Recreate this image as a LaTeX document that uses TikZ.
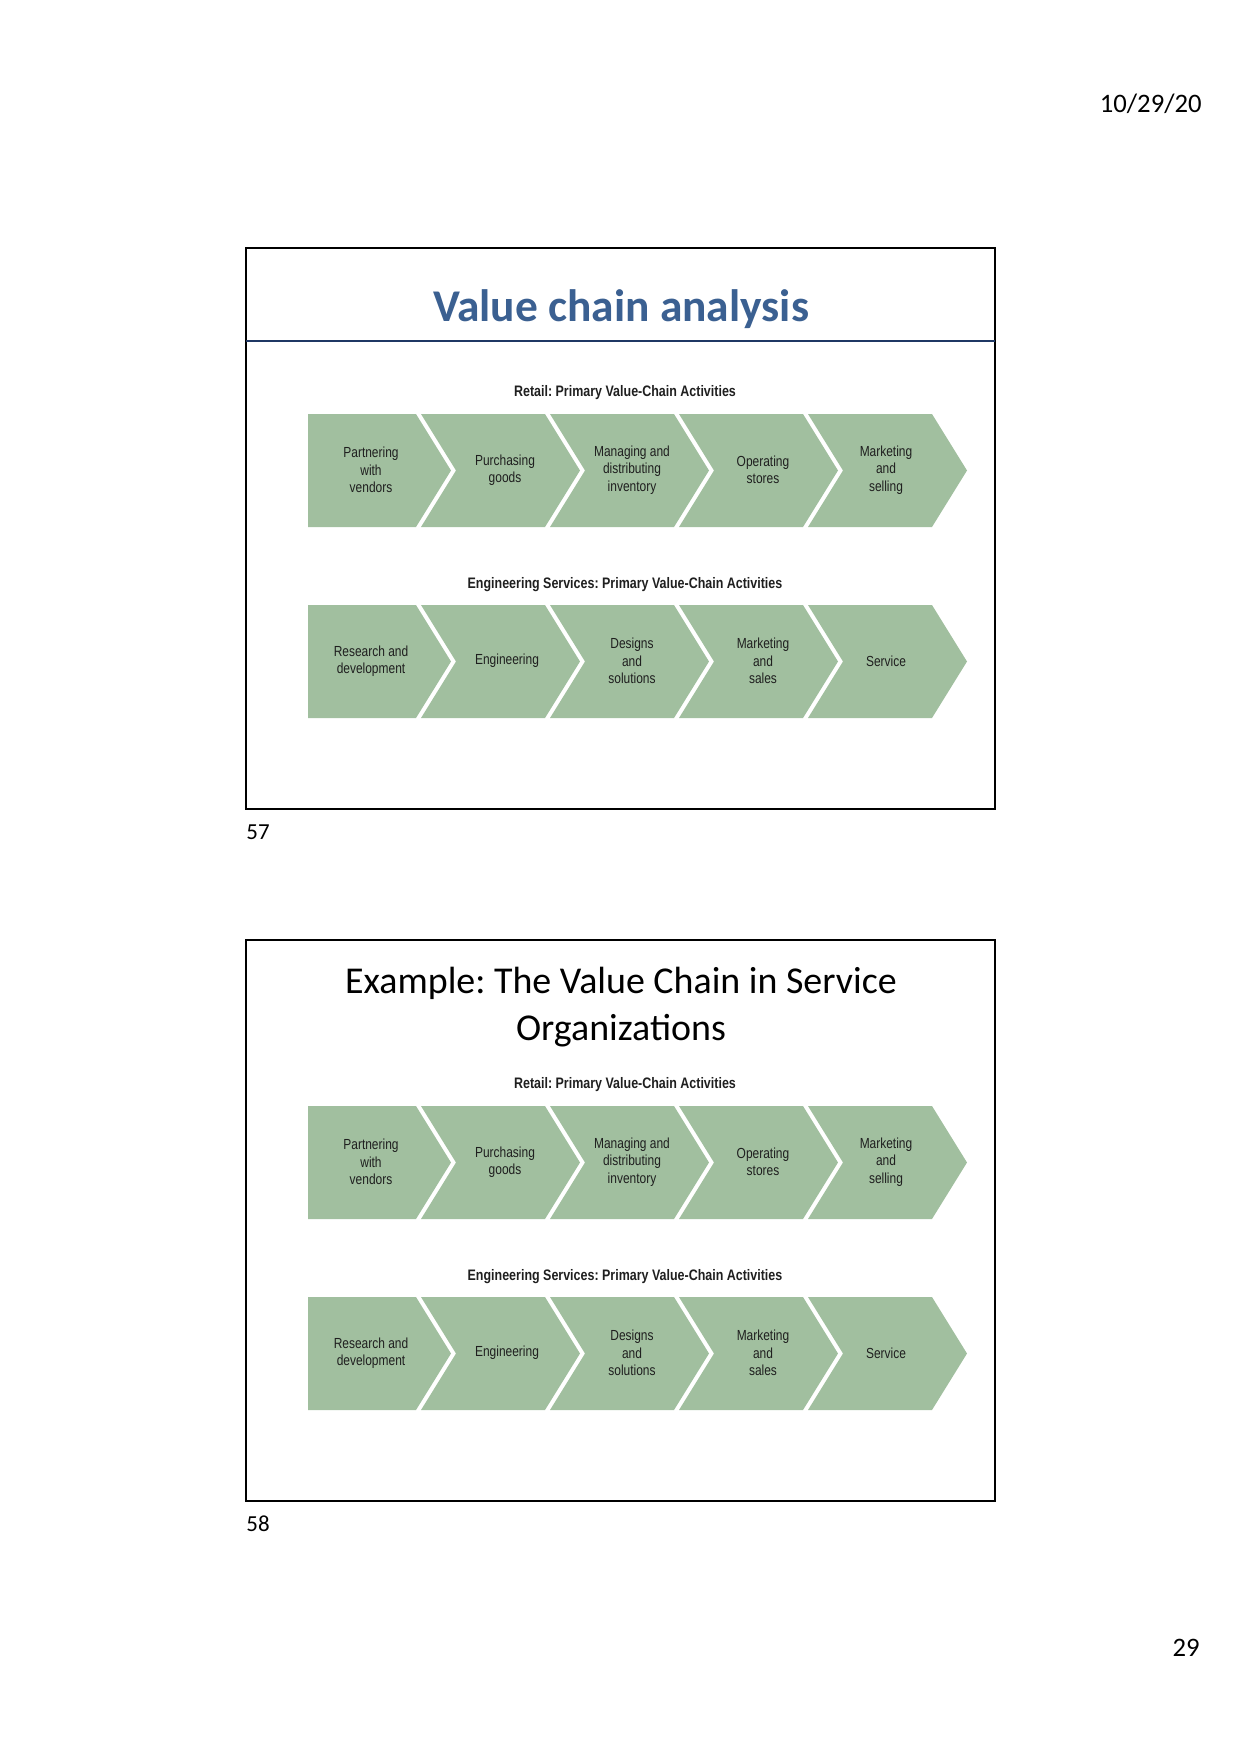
\documentclass[tikz,border=0pt]{standalone}
\usepackage{fontspec}
\setmainfont{Carlito}
\newfontfamily\chevfont[FakeStretch=0.82]{Liberation Sans}
\usepackage{tikz}
\usetikzlibrary{calc}
\frenchspacing

\definecolor{chevgreen}{RGB}{161,191,159}
\definecolor{titleblue}{RGB}{59,96,145}
\definecolor{rulenavy}{RGB}{31,56,100}

% one row of five chevrons, #1 = top edge (px)
\newcommand{\chevrow}[1]{%
  \fill[chev] (308,#1) -- (416,#1) -- (451,#1+56.5) -- (416,#1+113) -- (308,#1+113) -- cycle;
  \foreach \i in {1,...,4}{
    \pgfmathsetmacro{\xl}{416+129*(\i-1)+5}
    \pgfmathsetmacro{\xr}{416+129*\i}
    \fill[chev] (\xl,#1) -- (\xr,#1) -- (\xr+35,#1+56.5) -- (\xr,#1+113) -- (\xl,#1+113) -- (\xl+35,#1+56.5) -- cycle;
  }
}

% both value chains of one slide, #1 = prefix of node names
\newcommand{\valuechains}[1]{%
  \node[caption] (#1cap1) at (625,393) {Retail: Primary Value-Chain Activities};
  \chevrow{414}
  \node[label] (#1a1) at (371,470) {Partnering\\with\\vendors};
  \node[label] (#1a2) at (505,470) {Purchasing\\goods};
  \node[label] (#1a3) at (632,470) {Managing and\\distributing\\inventory};
  \node[label] (#1a4) at (763,470) {Operating\\stores};
  \node[label] (#1a5) at (886,470) {Marketing\\and\\selling};
  \node[caption] (#1cap2) at (625,585) {Engineering Services: Primary Value-Chain Activities};
  \chevrow{605}
  \node[label] (#1b1) at (371,661) {Research and\\development};
  \node[label] (#1b2) at (507,661) {Engineering};
  \node[label] (#1b3) at (632,661) {Designs\\and\\solutions};
  \node[label] (#1b4) at (763,661) {Marketing\\and\\sales};
  \node[label] (#1b5) at (886,661) {Service};
}

\begin{document}
\begin{tikzpicture}[x=0.48pt,y=-0.48pt,
  frame/.style={draw=black,line width=1pt},
  titlerule/.style={draw=rulenavy,line width=1.4pt},
  chev/.style={fill=chevgreen},
  label/.style={align=center,inner sep=0pt,text=black!88,font=\chevfont\fontsize{7}{8.3}\selectfont},
  caption/.style={inner sep=0pt,text=black!88,font=\chevfont\bfseries\fontsize{7.3}{9}\selectfont},
  pagetext/.style={inner sep=0pt,font=\fontsize{12.8}{15}\selectfont}]
\useasboundingbox (0,0) rectangle (1241,1754);

\node[pagetext,anchor=east] (date) at (1202,104) {10/29/20};

% slide 57
\draw[frame] (246,248) rectangle (995,809);
\draw[titlerule] (246,341) -- (995,341);
\node[inner sep=0pt,text=titleblue,font=\bfseries\fontsize{21.8}{26}\selectfont] (title1) at (621,309) {Value chain analysis};
\valuechains{s1}
\node[pagetext,anchor=west,font=\fontsize{11}{13}\selectfont] (num1) at (246,832) {57};

% slide 58
\draw[frame] (246,940) rectangle (995,1501);
\node[inner sep=0pt,align=center,font=\fontsize{18.2}{22.6}\selectfont] (title2) at (621,1007) {Example: The Value Chain in Service\\Organizations};
\begin{scope}[shift={(0,692)}]
\valuechains{s2}
\end{scope}
\node[pagetext,anchor=west,font=\fontsize{11}{13}\selectfont] (num2) at (246,1524) {58};

\node[pagetext,anchor=east] (page) at (1200,1648) {29};
\end{tikzpicture}
\end{document}
